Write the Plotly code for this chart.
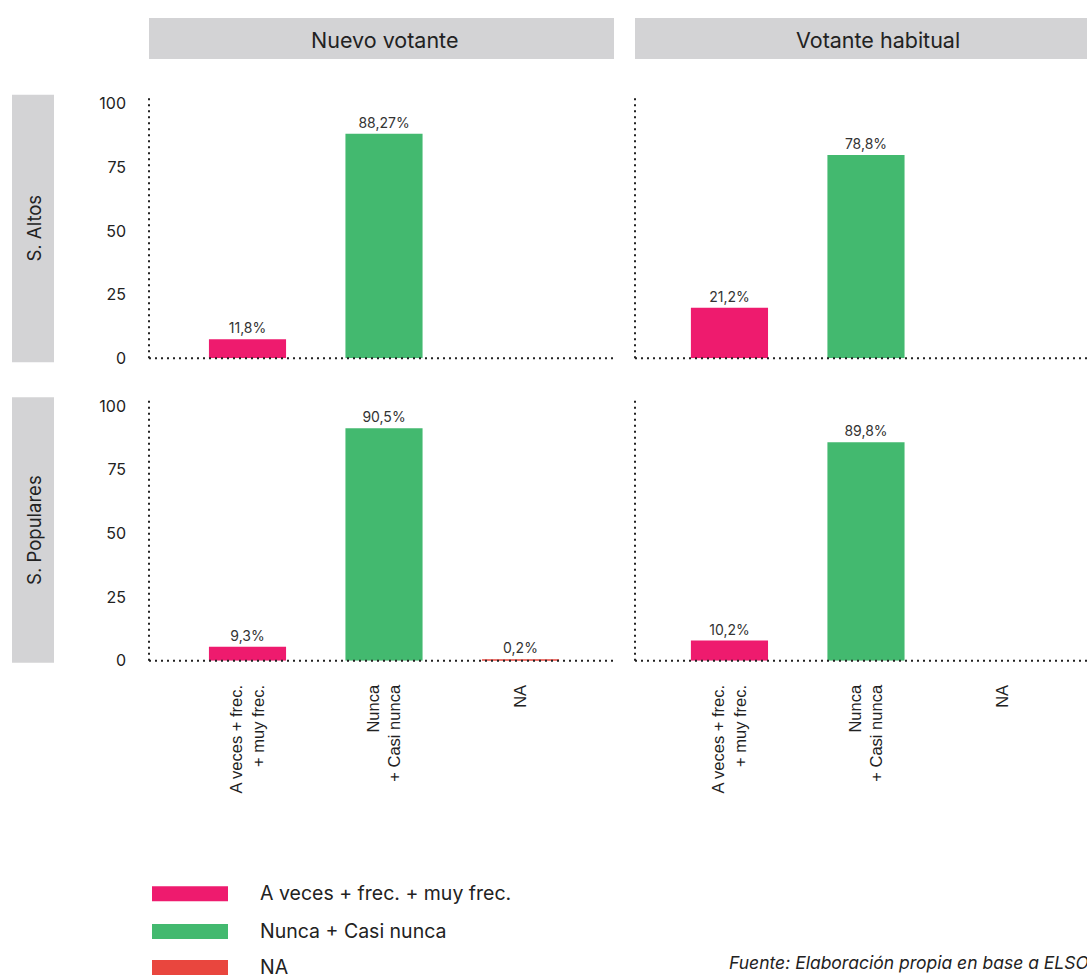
import plotly.graph_objects as go

W, H = 1087, 975
HEFF = 966  # vertical pixel scale used for positioning

categories = ["A veces + frec.<br>+ muy frec.", "Nunca<br>+ Casi nunca", "NA"]
columns = ["Nuevo votante", "Votante habitual"]
rows = ["S. Altos", "S. Populares"]

# bar heights as drawn (row, col)
vals_altos_nuevo = [7.5, 88.2, None]
vals_altos_habitual = [19.8, 79.9, None]
vals_pop_nuevo = [5.5, 91.3, 0.3]
vals_pop_habitual = [7.9, 85.8, None]

# labels printed above bars
lab_altos_nuevo = ["11,8%", "88,27%", ""]
lab_altos_habitual = ["21,2%", "78,8%", ""]
lab_pop_nuevo = ["9,3%", "90,5%", "0,2%"]
lab_pop_habitual = ["10,2%", "89,8%", ""]

legend_labels = ["A veces + frec. + muy frec.", "Nunca + Casi nunca", "NA"]
colors = ["#EE1B6E", "#43B96F", "#E9463E"]
source = "Fuente: Elaboración propia en base a ELSOC"

FONT = "Inter, Noto Sans, sans-serif"


def px_x(x):
    return x / W


def px_y(y):
    return 1 - y / HEFF


panels = [
    (vals_altos_nuevo, lab_altos_nuevo, 1),
    (vals_altos_habitual, lab_altos_habitual, 2),
    (vals_pop_nuevo, lab_pop_nuevo, 3),
    (vals_pop_habitual, lab_pop_habitual, 4),
]

fig = go.Figure()
for vals, labs, k in panels:
    fig.add_trace(go.Bar(
        x=categories, y=vals, text=labs, textposition="outside",
        marker=dict(color=colors, line=dict(width=0)),
        width=0.565, cliponaxis=False, showlegend=False,
        textfont=dict(family=FONT, size=14, color="#333333"),
        xaxis="x" if k == 1 else f"x{k}", yaxis="y" if k == 1 else f"y{k}",
    ))

col_dom = [[px_x(149), px_x(614)], [px_x(635), 1.0]]
row_dom = [[px_y(358), px_y(94)], [px_y(661), px_y(397)]]
xranges = [[-0.7216, 2.685], [-0.692, 2.619]]
yrange = [0, 103.5]

layout = dict(
    width=W, height=H, margin=dict(l=0, r=0, t=0, b=0),
    paper_bgcolor="white", plot_bgcolor="white",
    font=dict(family=FONT, color="#222222"),
)
for k in range(1, 5):
    r = (k - 1) // 2
    c = (k - 1) % 2
    xa = "xaxis" if k == 1 else f"xaxis{k}"
    ya = "yaxis" if k == 1 else f"yaxis{k}"
    yname = "y" if k == 1 else f"y{k}"
    xname = "x" if k == 1 else f"x{k}"
    layout[xa] = dict(
        domain=col_dom[c], anchor=yname, type="category",
        range=xranges[c], showgrid=False, zeroline=False, showline=False,
        ticks="", showticklabels=(r == 1), tickangle=-90,
        tickfont=dict(family="Liberation Sans, Arial, sans-serif", size=16.5, color="#222222"),
        ticklabelstandoff=20,
    )
    layout[ya] = dict(
        domain=row_dom[r], anchor=xname, range=yrange,
        showgrid=False, zeroline=False, showline=False, ticks="",
        tickvals=[0, 25, 50, 75, 100], showticklabels=(c == 0),
        tickfont=dict(family=FONT, size=16, color="#222222"),
        ticklabelstandoff=22,
    )
fig.update_layout(**layout)

shapes = []
annotations = []
# dotted axis lines
for k in range(1, 5):
    xname = "x" if k == 1 else f"x{k}"
    yname = "y" if k == 1 else f"y{k}"
    shapes.append(dict(type="line", xref=f"{xname} domain", yref=f"{yname} domain",
                       x0=0, x1=1, y0=0, y1=0,
                       line=dict(color="#222222", width=2, dash="2px,4px")))
    shapes.append(dict(type="line", xref=f"{xname} domain", yref=f"{yname} domain",
                       x0=0, x1=0, y0=0, y1=1,
                       line=dict(color="#222222", width=2, dash="2px,4px")))

# column strips
col_px = [(149, 614), (635, 1087)]
col_text_x = [384, 878]
for (x0, x1), tx, name in zip(col_px, col_text_x, columns):
    shapes.append(dict(type="rect", xref="paper", yref="paper",
                       x0=px_x(x0), x1=px_x(x1), y0=px_y(58), y1=px_y(17),
                       fillcolor="#D3D3D5", line=dict(width=0), layer="below"))
    annotations.append(dict(xref="paper", yref="paper", x=px_x(tx), y=px_y(39),
                            text=name, showarrow=False, xanchor="center", yanchor="middle",
                            font=dict(family=FONT, size=21.5, color="#222222")))

# row strips
row_px = [(94, 362), (397, 663)]
for (y0, y1), name in zip(row_px, rows):
    shapes.append(dict(type="rect", xref="paper", yref="paper",
                       x0=px_x(12), x1=px_x(54), y0=px_y(y1), y1=px_y(y0),
                       fillcolor="#D3D3D5", line=dict(width=0), layer="below"))
    annotations.append(dict(xref="paper", yref="paper", x=px_x(34), y=px_y((y0 + y1) / 2),
                            text=name, showarrow=False, textangle=-90,
                            xanchor="center", yanchor="middle",
                            font=dict(family=FONT, size=18.5, color="#222222")))

# legend
leg_y = [894, 932, 968]
for yy, lab, col in zip(leg_y, legend_labels, colors):
    shapes.append(dict(type="rect", xref="paper", yref="paper",
                       x0=px_x(152), x1=px_x(228), y0=px_y(yy + 8), y1=px_y(yy - 7),
                       fillcolor=col, line=dict(width=0)))
    annotations.append(dict(xref="paper", yref="paper", x=px_x(258), y=px_y(yy),
                            text=lab, showarrow=False, xanchor="left", yanchor="middle",
                            font=dict(family=FONT, size=19.5, color="#222222")))

annotations.append(dict(xref="paper", yref="paper", x=px_x(727), y=px_y(963),
                        text=f"<i>{source}</i>", showarrow=False,
                        xanchor="left", yanchor="middle",
                        font=dict(family=FONT, size=17.5, color="#222222")))

fig.update_layout(shapes=shapes, annotations=annotations)
fig.write_html("out.html")
